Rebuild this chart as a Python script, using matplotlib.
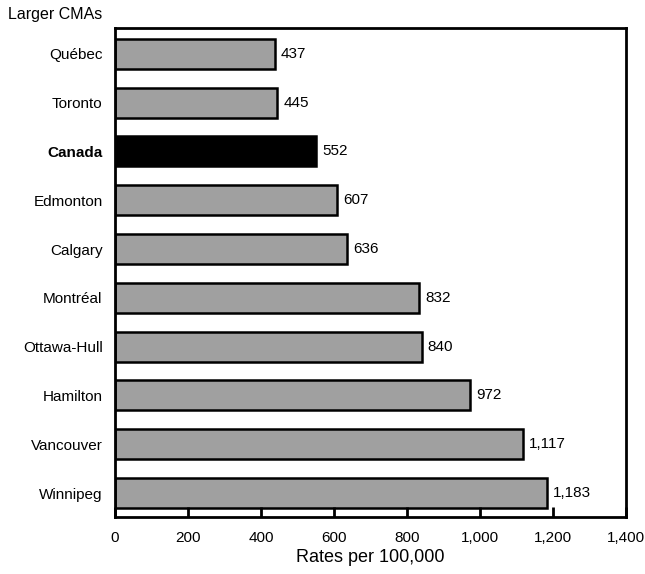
import matplotlib
matplotlib.use("Agg")
import matplotlib.pyplot as plt

categories = ["Québec", "Toronto", "Canada", "Edmonton", "Calgary", "Montréal",
              "Ottawa-Hull", "Hamilton", "Vancouver", "Winnipeg"]
values = [437, 445, 552, 607, 636, 832, 840, 972, 1117, 1183]
xticks = [0, 200, 400, 600, 800, 1000, 1200, 1400]

plt.rcParams['font.family'] = ['Liberation Sans', 'DejaVu Sans']

fig = plt.figure(figsize=(6.45, 5.74), dpi=100)
ax = fig.add_axes([115/645, 57/574, (626-115)/645, (517-28)/574])

colors = ["black" if c == "Canada" else "#a0a0a0" for c in categories]
pos = list(range(len(categories)))
ax.barh(pos, values, height=0.615, color=colors, edgecolor="black", linewidth=1.8)

for p, v in zip(pos, values):
    ax.text(v + 17, p, f"{v:,}", va="center", ha="left", fontsize=11)

ax.set_ylim(9.49, -0.53)
ax.set_xlim(0, 1400)
ax.set_yticks(pos)
ax.set_yticklabels(categories, fontsize=11)
for lbl in ax.get_yticklabels():
    if lbl.get_text() == "Canada":
        lbl.set_fontweight("bold")
ax.tick_params(axis="y", length=0, pad=9)
ax.set_xticks(xticks)
ax.set_xticklabels([f"{t:,}" for t in xticks], fontsize=11)
ax.tick_params(axis="x", direction="in", length=7, width=2, pad=10)
for s in ax.spines.values():
    s.set_linewidth(2)
ax.set_xlabel("Rates per 100,000", fontsize=13, labelpad=3)
fig.text(8/645, 1 - 15/574, "Larger CMAs", fontsize=11.5, va="center", ha="left")

fig.savefig("out.png", dpi=100)
